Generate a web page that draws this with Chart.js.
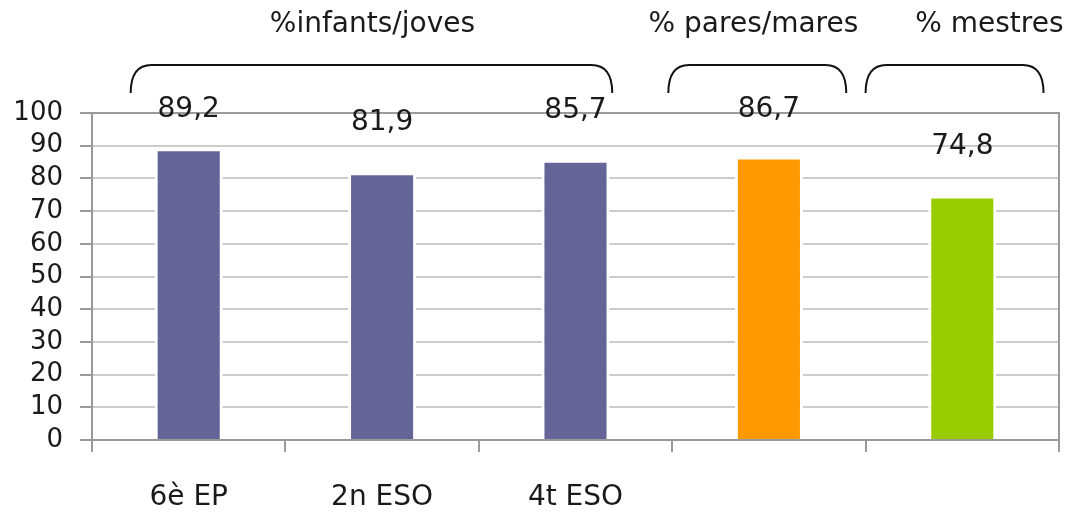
<!DOCTYPE html>
<html>
<head>
<meta charset="utf-8">
<script src="https://cdn.jsdelivr.net/npm/chart.js@4.4.1/dist/chart.umd.min.js"></script>
<style>
  html, body { margin: 0; padding: 0; background: #ffffff; }
  #wrap { width: 1079px; height: 515px; position: relative; }
</style>
</head>
<body>
<div id="wrap"><canvas id="chart"></canvas></div>
<script>
const categories = ["6è EP", "2n ESO", "4t ESO", "", ""];
const values = [89.2, 81.9, 85.7, 86.7, 74.8];
const valueLabels = ["89,2", "81,9", "85,7", "86,7", "74,8"];
const barColors = ["#646497", "#646497", "#646497", "#ff9900", "#99cc00"];
const yTicks = [0, 10, 20, 30, 40, 50, 60, 70, 80, 90, 100];

const groupTitles = ["%infants/joves", "% pares/mares", "% mestres"];
// bracket spans and title centres, in category units
const groupSpans = [[-0.3, 2.19], [2.48, 3.4], [3.5, 4.42]];
const titleCentres = [0.95, 2.92, 4.14];

const FONT = "'DejaVu Sans', 'Open Sans', sans-serif";
const TEXT = "#1a1a1a";
const AXIS = "#9a9a9a";
const GRID = "#cccccc";

function catToPixel(scale, u) {
  const step = scale.getPixelForValue(1) - scale.getPixelForValue(0);
  return scale.getPixelForValue(0) + u * step;
}

const annotations = {
  id: "annotations",
  afterDatasetsDraw(chart) {
    const { ctx, scales } = chart;
    const x = scales.x;
    const y = scales.y;
    ctx.save();
    ctx.fillStyle = TEXT;
    ctx.font = `28px ${FONT}`;
    ctx.textAlign = "center";
    ctx.textBaseline = "middle";

    values.forEach((v, i) => {
      const py = y.getPixelForValue(Math.min(v + 15, 101));
      ctx.fillText(valueLabels[i], x.getPixelForValue(i), py);
    });

    ctx.strokeStyle = "#111111";
    ctx.lineWidth = 2;
    const top = 65;
    const bottom = 93;
    const r = 13;
    groupSpans.forEach(([a, b], i) => {
      const x0 = catToPixel(x, a);
      const x1 = catToPixel(x, b);
      ctx.beginPath();
      ctx.moveTo(x0, bottom);
      ctx.quadraticCurveTo(x0, top, x0 + r * 1.6, top);
      ctx.lineTo(x1 - r * 1.6, top);
      ctx.quadraticCurveTo(x1, top, x1, bottom);
      ctx.stroke();
      ctx.fillText(groupTitles[i], catToPixel(x, titleCentres[i]), 25);
    });
    ctx.restore();
  },
};

new Chart(document.getElementById("chart"), {
  type: "bar",
  data: {
    labels: categories,
    datasets: [
      {
        data: values,
        backgroundColor: barColors,
        borderColor: "#ffffff",
        borderWidth: 3,
        borderSkipped: "bottom",
        barPercentage: 0.352,
        categoryPercentage: 1,
      },
    ],
  },
  options: {
    responsive: true,
    maintainAspectRatio: false,
    animation: false,
    layout: { padding: { top: 113, left: 0, right: 0, bottom: 0 } },
    plugins: {
      legend: { display: false },
      tooltip: { enabled: false },
    },
    scales: {
      x: {
        afterFit: (s) => { s.height = 75; },
        grid: {
          offset: true,
          drawOnChartArea: false,
          tickLength: 12,
          tickColor: AXIS,
          lineWidth: 2,
        },
        border: { color: AXIS, width: 2 },
        ticks: {
          color: TEXT,
          padding: 29,
          maxRotation: 0,
          autoSkip: false,
          font: { family: FONT, size: 28 },
        },
      },
      y: {
        min: 0,
        max: 100,
        afterFit: (s) => { s.width = 92; },
        afterBuildTicks: (s) => { s.ticks = yTicks.map((value) => ({ value })); },
        grid: {
          color: (c) => (c.tick.value === 100 ? AXIS : GRID),
          tickColor: AXIS,
          tickLength: 12,
          lineWidth: 2,
        },
        border: { color: AXIS, width: 2 },
        ticks: {
          color: TEXT,
          padding: 17,
          autoSkip: false,
          font: { family: FONT, size: 26 },
        },
      },
      yRight: {
        position: "right",
        min: 0,
        max: 100,
        afterFit: (s) => { s.width = 20; },
        grid: { drawOnChartArea: false, drawTicks: false },
        border: { color: AXIS, width: 2 },
        ticks: { display: false },
      },
    },
  },
  plugins: [annotations],
});
</script>
</body>
</html>
